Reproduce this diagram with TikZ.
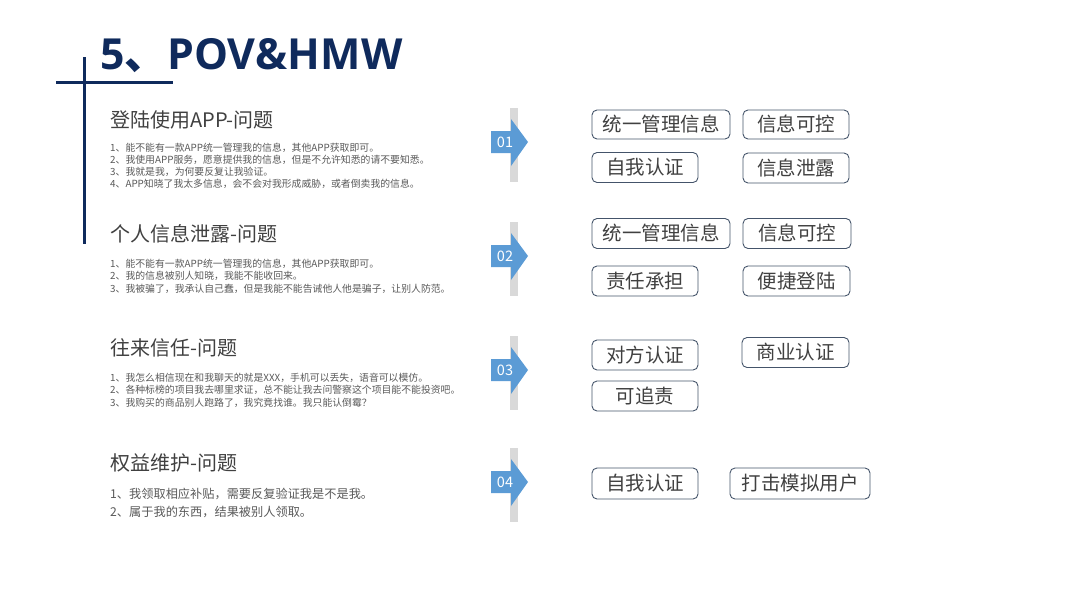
\documentclass[tikz,border=0pt]{standalone}
\usepackage{fontspec}
\setmainfont{Noto Sans CJK SC}
\newfontfamily\titlefont{Open Sans}
\definecolor{navy}{HTML}{0F2A5C}
\definecolor{arrowblue}{HTML}{5B9BD5}
\definecolor{bargray}{HTML}{D9D9D9}
\definecolor{boxline}{HTML}{44546A}
\definecolor{headgray}{HTML}{404040}
\definecolor{bodygray}{HTML}{595959}
\newcommand\mysecarrow[2]{%
  \fill[bargray] (510,#1-34) rectangle (518,#1+40);
  \fill[arrowblue] (491,#1-11) -- (511,#1-11) -- (511,#1-23) -- (528,#1) -- (511,#1+24) -- (511,#1+11) -- (491,#1+11) -- cycle;
  \node[numtxt] (num#2) at (505,#1) {0#2};
}
\tikzset{
  numtxt/.style={inner sep=0, text=white, font=\fontsize{14.5}{14.5}\selectfont},
  head/.style={anchor=west, inner sep=0, text=headgray, font=\fontsize{20}{20}\selectfont},
  body/.style={anchor=west, inner sep=0, text=bodygray, font=\fontsize{9.85}{9.85}\selectfont},
  bodybig/.style={anchor=west, inner sep=0, text=bodygray, font=\fontsize{12.2}{12.2}\selectfont},
  tag/.style={draw=boxline, line width=0.9pt, rounded corners=5pt, text=headgray, inner sep=0,
    font=\fontsize{19.5}{19.5}\selectfont},
}
\begin{document}
\begin{tikzpicture}[x=1pt,y=-1pt]
\useasboundingbox (0,0) rectangle (1067,600);
% title and cross lines
\node[anchor=base west, inner sep=0, text=navy, font=\titlefont\bfseries\fontsize{42.8}{42.8}\selectfont] (title) at (100,69) {5{\rmfamily\bfseries 、}POV\&HMW};
\draw[navy, line width=3pt] (84,57) -- (84,244);
\draw[navy, line width=3pt] (56,82) -- (173,82);
% section 1
\node[head] (h1) at (110,120) {登陆使用APP-问题};
\node[body] (t11) at (110,148) {1、能不能有一款APP统一管理我的信息，其他APP获取即可。};
\node[body] (t12) at (110,160) {2、我使用APP服务，愿意提供我的信息，但是不允许知悉的请不要知悉。};
\node[body] (t13) at (110,172) {3、我就是我，为何要反复让我验证。};
\node[body] (t14) at (110,184) {4、APP知晓了我太多信息，会不会对我形成威胁，或者倒卖我的信息。};
% section 2
\node[head] (h2) at (110,234) {个人信息泄露-问题};
\node[body] (t21) at (110,264) {1、能不能有一款APP统一管理我的信息，其他APP获取即可。};
\node[body] (t22) at (110,276) {2、我的信息被别人知晓，我能不能收回来。};
\node[body] (t23) at (110,289) {3、我被骗了，我承认自己蠢，但是我能不能告诫他人他是骗子，让别人防范。};
% section 3
\node[head] (h3) at (110,348) {往来信任-问题};
\node[body] (t31) at (110,378) {1、我怎么相信现在和我聊天的就是XXX，手机可以丢失，语音可以模仿。};
\node[body] (t32) at (110,390) {2、各种标榜的项目我去哪里求证，总不能让我去问警察这个项目能不能投资吧。};
\node[body] (t33) at (110,403) {3、我购买的商品别人跑路了，我究竟找谁。我只能认倒霉？};
% section 4
\node[head] (h4) at (110,463) {权益维护-问题};
\node[bodybig] (t41) at (110,494) {1、我领取相应补贴，需要反复验证我是不是我。};
\node[bodybig] (t42) at (110,512) {2、属于我的东西，结果被别人领取。};
% arrows
\mysecarrow{142}{1}
\mysecarrow{256}{2}
\mysecarrow{370}{3}
\mysecarrow{482}{4}
% tags section 1
\node[tag, minimum width=138pt, minimum height=29pt] (b11) at (661,124.5) {统一管理信息};
\node[tag, minimum width=106pt, minimum height=29pt] (b12) at (796,124.5) {信息可控};
\node[tag, minimum width=106pt, minimum height=30pt] (b13) at (645,167.5) {自我认证};
\node[tag, minimum width=106pt, minimum height=30pt] (b14) at (796,168) {信息泄露};
% tags section 2
\node[tag, minimum width=138pt, minimum height=30pt] (b21) at (661,233.5) {统一管理信息};
\node[tag, minimum width=108pt, minimum height=30pt] (b22) at (797,233.5) {信息可控};
\node[tag, minimum width=106pt, minimum height=30pt] (b23) at (645,281) {责任承担};
\node[tag, minimum width=107pt, minimum height=30pt] (b24) at (796.5,281) {便捷登陆};
% tags section 3
\node[tag, minimum width=106pt, minimum height=30pt] (b31) at (645,355) {对方认证};
\node[tag, minimum width=107pt, minimum height=30pt] (b32) at (795.5,352.5) {商业认证};
\node[tag, minimum width=106pt, minimum height=30pt] (b33) at (645,396) {可追责};
% tags section 4
\node[tag, minimum width=106pt, minimum height=31pt] (b41) at (645,483.5) {自我认证};
\node[tag, minimum width=140pt, minimum height=31pt] (b42) at (800,483.5) {打击模拟用户};
\end{tikzpicture}
\end{document}
